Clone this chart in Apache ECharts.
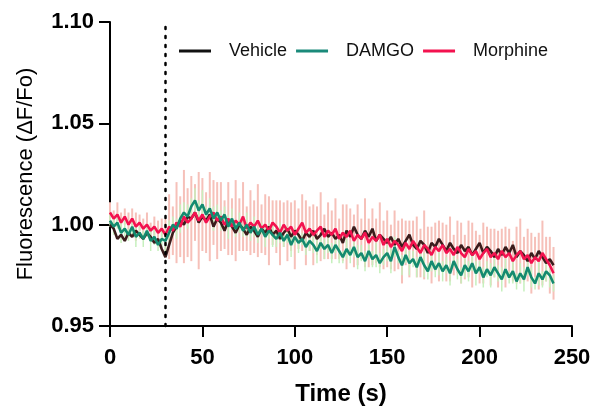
<!DOCTYPE html>
<html>
<head>
<meta charset="utf-8">
<script src="https://cdn.jsdelivr.net/npm/echarts@6/dist/echarts.min.js"></script>
<style>html,body{margin:0;padding:0;background:#fff}#c{width:597px;height:415px}</style>
</head>
<body>
<div id="c"></div>
<script>
var times = [0,2,4,6,8,10,12,14,16,18,20,22,24,26,28,30,32,34,36,38,40,42,44,46,48,50,52,54,56,58,60,62,64,66,68,70,72,74,76,78,80,82,84,86,88,90,92,94,96,98,100,102,104,106,108,110,112,114,116,118,120,122,124,126,128,130,132,134,136,138,140,142,144,146,148,150,152,154,156,158,160,162,164,166,168,170,172,174,176,178,180,182,184,186,188,190,192,194,196,198,200,202,204,206,208,210,212,214,216,218,220,222,224,226,228,230,232,234,236,238,240];

var vehicle = [1.000,0.998,0.993,0.995,0.992,0.996,0.994,0.997,0.995,0.993,0.996,0.994,0.991,0.993,0.988,
0.984,0.990,0.996,0.999,1.002,1.000,1.004,1.003,1.006,1.001,1.004,1.002,1.005,0.999,1.003,
1.001,0.997,1.002,0.999,0.996,1.000,0.998,0.995,0.999,0.997,0.994,0.998,0.996,0.999,0.995,
0.997,0.993,0.996,0.998,0.994,0.997,0.995,0.992,0.996,0.994,0.997,0.993,0.995,0.998,0.994,
0.996,0.993,0.995,0.991,0.997,0.994,0.999,0.995,0.993,0.997,0.994,0.998,0.992,0.995,0.993,
0.991,0.994,0.990,0.993,0.989,0.992,0.995,0.990,0.988,0.992,0.990,0.986,0.991,0.989,0.993,
0.990,0.987,0.991,0.988,0.986,0.990,0.987,0.989,0.985,0.988,0.991,0.986,0.989,0.987,0.984,
0.988,0.985,0.989,0.986,0.990,0.984,0.987,0.985,0.982,0.986,0.983,0.987,0.984,0.981,0.983,0.980];

var damgo = [1.002,0.999,1.001,0.996,0.998,0.995,0.999,0.994,0.996,0.993,0.997,0.992,0.994,0.990,0.993,
0.992,0.996,1.000,0.998,1.003,1.006,1.004,1.009,1.012,1.007,1.010,1.005,1.008,1.003,1.006,
1.002,1.005,0.999,1.003,0.998,1.001,0.997,1.000,0.996,0.999,0.995,0.998,0.994,0.997,0.995,
0.993,0.996,0.992,0.995,0.990,0.994,0.991,0.993,0.989,0.992,0.990,0.987,0.991,0.988,0.990,
0.986,0.990,0.987,0.984,0.988,0.985,0.989,0.984,0.986,0.982,0.987,0.983,0.985,0.981,0.984,
0.986,0.982,0.989,0.984,0.980,0.985,0.981,0.983,0.979,0.984,0.980,0.977,0.982,0.978,0.981,
0.977,0.980,0.976,0.982,0.978,0.975,0.980,0.977,0.981,0.976,0.979,0.974,0.978,0.975,0.979,
0.976,0.973,0.978,0.974,0.977,0.972,0.976,0.973,0.979,0.974,0.971,0.976,0.973,0.977,0.975,0.971];

var morphine = [1.006,1.003,1.005,1.001,1.004,1.000,1.003,0.999,1.001,0.998,1.000,0.997,0.999,0.996,0.998,
0.995,0.999,0.997,1.001,0.999,1.004,1.001,1.003,1.006,1.002,1.005,1.001,1.004,1.006,1.002,
1.004,1.000,1.003,0.999,1.002,1.000,1.004,0.998,1.001,0.999,1.002,0.998,1.000,0.997,1.001,
0.999,0.996,1.000,0.997,0.999,0.995,0.998,1.001,0.996,0.998,0.995,0.997,0.999,0.994,0.997,
0.995,0.998,0.993,0.996,0.994,0.997,0.992,0.995,0.993,0.996,0.991,0.994,0.992,0.995,0.990,
0.993,0.989,0.992,0.990,0.987,0.991,0.988,0.992,0.989,0.986,0.990,0.988,0.985,0.989,0.987,
0.990,0.986,0.988,0.985,0.989,0.986,0.984,0.988,0.985,0.987,0.983,0.986,0.988,0.984,0.986,
0.983,0.987,0.984,0.986,0.982,0.985,0.987,0.983,0.985,0.981,0.984,0.982,0.986,0.983,0.980,0.976];

var morphineErr = [0.005,0.004,0.006,0.005,0.004,0.006,0.005,0.007,0.004,0.005,0.006,0.004,0.005,0.006,0.005,
0.008,0.016,0.012,0.020,0.015,0.023,0.017,0.021,0.014,0.024,0.018,0.015,0.022,0.016,0.019,
0.017,0.012,0.018,0.014,0.020,0.013,0.017,0.011,0.016,0.013,0.018,0.012,0.015,0.017,0.011,
0.013,0.016,0.011,0.015,0.012,0.017,0.010,0.014,0.016,0.011,0.015,0.012,0.017,0.011,0.014,
0.012,0.015,0.010,0.014,0.016,0.011,0.013,0.015,0.010,0.017,0.012,0.014,0.011,0.016,0.012,
0.014,0.011,0.015,0.012,0.016,0.011,0.014,0.010,0.015,0.012,0.017,0.011,0.014,0.012,0.015,
0.011,0.014,0.016,0.010,0.013,0.015,0.011,0.014,0.016,0.010,0.012,0.015,0.011,0.014,0.012,
0.014,0.011,0.015,0.012,0.010,0.014,0.016,0.011,0.013,0.015,0.010,0.014,0.016,0.011,0.014,0.013];

var damgoErr = [0.003,0.004,0.003,0.005,0.004,0.003,0.004,0.005,0.003,0.004,0.003,0.005,0.004,0.003,0.004,
0.005,0.006,0.004,0.005,0.007,0.005,0.006,0.004,0.006,0.005,0.007,0.004,0.005,0.006,0.004,
0.005,0.004,0.006,0.005,0.004,0.005,0.003,0.006,0.004,0.005,0.004,0.003,0.005,0.004,0.006,
0.004,0.005,0.003,0.004,0.006,0.004,0.005,0.003,0.004,0.005,0.004,0.006,0.003,0.005,0.004,
0.005,0.004,0.006,0.003,0.005,0.004,0.005,0.006,0.004,0.005,0.003,0.004,0.006,0.005,0.004,
0.004,0.006,0.005,0.003,0.005,0.004,0.006,0.004,0.005,0.003,0.006,0.004,0.005,0.004,0.006,
0.005,0.004,0.006,0.003,0.005,0.004,0.006,0.005,0.004,0.006,0.003,0.005,0.004,0.006,0.005,
0.004,0.006,0.005,0.003,0.006,0.004,0.005,0.006,0.004,0.005,0.003,0.006,0.004,0.005,0.006,0.004];

var xTicks = [0, 50, 100, 150, 200, 250];
var yTicks = [0.95, 1.00, 1.05, 1.10];
var stimTime = 30;
var seriesNames = ['Vehicle', 'DAMGO', 'Morphine'];

function pairs(vals) { return times.map(function (t, i) { return [t, vals[i]]; }); }
function errRows(vals, err) { return times.map(function (t, i) { return [t, vals[i] - err[i], vals[i] + err[i]]; }); }

function errSeries(name, rows, color, width) {
  return {
    type: 'custom', name: name, silent: true, z: 1,
    data: rows,
    renderItem: function (params, api) {
      var lo = api.coord([api.value(0), api.value(1)]);
      var hi = api.coord([api.value(0), api.value(2)]);
      return {type: 'line', shape: {x1: lo[0], y1: lo[1], x2: hi[0], y2: hi[1]},
        style: {stroke: color, lineWidth: width}};
    }
  };
}

var font = '"Liberation Sans", Arial, sans-serif';
var chart = echarts.init(document.getElementById('c'), null, {renderer: 'canvas'});
chart.setOption({
  animation: false,
  backgroundColor: '#fff',
  grid: {left: 110, right: 25, top: 22, bottom: 89},
  legend: {
    data: seriesNames.map(function (n) { return {name: n, icon: 'rect'}; }),
    left: 174, top: 37,
    itemWidth: 32, itemHeight: 3, itemGap: 9,
    textStyle: {fontFamily: font, fontSize: 18, color: '#111', padding: [0, 0, 0, 13]}
  },
  xAxis: {
    type: 'value', min: 0, max: 250, interval: 50,
    name: 'Time (s)', nameLocation: 'middle', nameGap: 56,
    nameTextStyle: {fontFamily: font, fontSize: 24, fontWeight: 'bold', color: '#000'},
    axisLine: {lineStyle: {color: '#000', width: 2}},
    axisTick: {show: true, length: 11, lineStyle: {color: '#000', width: 2}},
    axisLabel: {fontFamily: font, fontSize: 22, fontWeight: 'bold', color: '#000', margin: 21},
    splitLine: {show: false}
  },
  yAxis: {
    type: 'value', min: 0.95, max: 1.10, interval: 0.05,
    name: 'Fluorescence (ΔF/Fo)', nameLocation: 'middle', nameGap: 73,
    nameTextStyle: {fontFamily: font, fontSize: 22, color: '#000'},
    axisLine: {show: true, lineStyle: {color: '#000', width: 2}},
    axisTick: {show: true, length: 11, lineStyle: {color: '#000', width: 2}},
    axisLabel: {fontFamily: font, fontSize: 22, fontWeight: 'bold', color: '#000', margin: 16,
      formatter: function (v) { return v.toFixed(2); }},
    splitLine: {show: false}
  },
  series: [
    errSeries('MorphineErr', errRows(morphine, morphineErr), '#f6c0b9', 2),
    errSeries('DAMGOErr', errRows(damgo, damgoErr), '#c6f0bd', 1.5),
    {
      name: 'Vehicle', type: 'line', data: pairs(vehicle), showSymbol: false, z: 3,
      lineStyle: {color: '#3b1c1c', width: 2.6}, itemStyle: {color: '#111'},
      markLine: {
        silent: true, symbol: 'none', label: {show: false},
        lineStyle: {color: '#000', type: [2, 7], width: 2.5, cap: 'round'},
        data: [{xAxis: stimTime}]
      }
    },
    {
      name: 'Morphine', type: 'line', data: pairs(morphine), showSymbol: false, z: 4,
      lineStyle: {color: '#f3124f', width: 2.6}, itemStyle: {color: '#f3124f'}
    },
    {
      name: 'DAMGO', type: 'line', data: pairs(damgo), showSymbol: false, z: 5,
      lineStyle: {color: '#148a6f', width: 2.6}, itemStyle: {color: '#1a8a7a'}
    }
  ]
});
</script>
</body>
</html>
